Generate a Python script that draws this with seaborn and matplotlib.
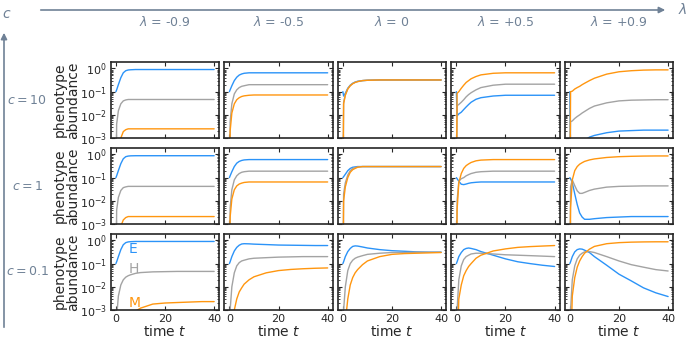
import pandas as pd
import seaborn as sns
import matplotlib.pyplot as plt

# time points
t = [0, 0.3, 1, 2, 3, 4, 5, 6, 8, 10, 15, 20, 25, 30, 35, 40]
lambdas = ['-0.9', '-0.5', '0', '+0.5', '+0.9']
c_values = ['10', '1', '0.1']

# abundance of each phenotype, one list per lambda (order as in `lambdas`)
E_c10 = [
    [0.1, 0.12, 0.2, 0.4, 0.65, 0.8, 0.86, 0.88, 0.9, 0.9, 0.9, 0.9, 0.9, 0.9, 0.9, 0.9],
    [0.1, 0.12, 0.18, 0.3, 0.42, 0.52, 0.58, 0.62, 0.65, 0.65, 0.65, 0.65, 0.65, 0.65, 0.65, 0.65],
    [0.1, 0.065, 0.085, 0.14, 0.19, 0.23, 0.26, 0.28, 0.3, 0.31, 0.32, 0.32, 0.32, 0.32, 0.32, 0.32],
    [0.1, 0.009, 0.011, 0.013, 0.017, 0.022, 0.028, 0.035, 0.047, 0.055, 0.065, 0.07, 0.07, 0.07, 0.07, 0.07],
    [0.1, 1e-5, 1e-4, 2e-4, 3e-4, 4e-4, 6e-4, 8e-4, 0.0011, 0.0013, 0.0017, 0.002, 0.0021, 0.0022, 0.0022, 0.0022],
]
H_c10 = [
    [1e-6, 0.004, 0.015, 0.03, 0.04, 0.044, 0.046, 0.046, 0.046, 0.046, 0.046, 0.046, 0.046, 0.046, 0.046, 0.046],
    [1e-6, 0.005, 0.03, 0.08, 0.12, 0.15, 0.17, 0.18, 0.2, 0.2, 0.2, 0.2, 0.2, 0.2, 0.2, 0.2],
    [1e-6, 0.035, 0.075, 0.135, 0.185, 0.225, 0.255, 0.275, 0.3, 0.31, 0.32, 0.32, 0.32, 0.32, 0.32, 0.32],
    [1e-6, 0.025, 0.028, 0.035, 0.045, 0.06, 0.075, 0.09, 0.12, 0.15, 0.19, 0.21, 0.21, 0.21, 0.21, 0.21],
    [1e-6, 0.005, 0.0055, 0.007, 0.0085, 0.01, 0.012, 0.014, 0.019, 0.024, 0.033, 0.04, 0.043, 0.044, 0.045, 0.045],
]
M_c10 = [
    [1e-6, 1e-5, 3e-4, 0.001, 0.0019, 0.0023, 0.0025, 0.0025, 0.0025, 0.0025, 0.0025, 0.0025, 0.0025, 0.0025, 0.0025, 0.0025],
    [1e-6, 0.002, 0.012, 0.03, 0.045, 0.055, 0.062, 0.066, 0.07, 0.072, 0.072, 0.072, 0.072, 0.072, 0.072, 0.072],
    [1e-6, 0.03, 0.07, 0.13, 0.18, 0.22, 0.25, 0.27, 0.3, 0.31, 0.32, 0.32, 0.32, 0.32, 0.32, 0.32],
    [1e-6, 0.085, 0.1, 0.14, 0.19, 0.25, 0.3, 0.36, 0.45, 0.53, 0.62, 0.65, 0.65, 0.65, 0.65, 0.65],
    [1e-6, 0.1, 0.105, 0.13, 0.15, 0.17, 0.2, 0.23, 0.3, 0.38, 0.57, 0.72, 0.8, 0.85, 0.87, 0.87],
]

E_c1 = [
    [0.1, 0.12, 0.2, 0.4, 0.65, 0.8, 0.85, 0.87, 0.88, 0.88, 0.88, 0.88, 0.88, 0.88, 0.88, 0.88],
    [0.1, 0.12, 0.18, 0.3, 0.42, 0.5, 0.55, 0.58, 0.6, 0.6, 0.6, 0.6, 0.6, 0.6, 0.6, 0.6],
    [0.1, 0.11, 0.14, 0.2, 0.25, 0.28, 0.29, 0.3, 0.3, 0.3, 0.3, 0.3, 0.3, 0.3, 0.3, 0.3],
    [0.1, 0.09, 0.07, 0.052, 0.05, 0.053, 0.057, 0.06, 0.063, 0.065, 0.065, 0.065, 0.065, 0.065, 0.065, 0.065],
    [0.1, 0.09, 0.06, 0.02, 0.007, 0.003, 0.002, 0.0016, 0.0016, 0.0017, 0.0019, 0.002, 0.0021, 0.0021, 0.0021, 0.0021],
]
H_c1 = [
    [1e-6, 0.004, 0.014, 0.028, 0.037, 0.04, 0.042, 0.042, 0.042, 0.042, 0.042, 0.042, 0.042, 0.042, 0.042, 0.042],
    [1e-6, 0.005, 0.03, 0.08, 0.12, 0.15, 0.17, 0.18, 0.19, 0.19, 0.19, 0.19, 0.19, 0.19, 0.19, 0.19],
    [1e-6, 0.02, 0.06, 0.13, 0.2, 0.25, 0.27, 0.29, 0.3, 0.3, 0.3, 0.3, 0.3, 0.3, 0.3, 0.3],
    [1e-6, 0.01, 0.07, 0.09, 0.1, 0.12, 0.135, 0.15, 0.17, 0.18, 0.19, 0.19, 0.19, 0.19, 0.19, 0.19],
    [1e-6, 0.04, 0.08, 0.045, 0.027, 0.021, 0.021, 0.023, 0.028, 0.032, 0.039, 0.042, 0.043, 0.044, 0.044, 0.044],
]
M_c1 = [
    [1e-6, 1e-5, 2e-4, 8e-4, 0.0015, 0.0019, 0.0021, 0.0021, 0.0021, 0.0021, 0.0021, 0.0021, 0.0021, 0.0021, 0.0021, 0.0021],
    [1e-6, 0.002, 0.012, 0.03, 0.044, 0.053, 0.058, 0.062, 0.065, 0.065, 0.065, 0.065, 0.065, 0.065, 0.065, 0.065],
    [1e-6, 0.01, 0.04, 0.1, 0.17, 0.22, 0.25, 0.28, 0.3, 0.3, 0.3, 0.3, 0.3, 0.3, 0.3, 0.3],
    [1e-6, 0.004, 0.06, 0.15, 0.25, 0.33, 0.39, 0.45, 0.53, 0.57, 0.6, 0.6, 0.6, 0.6, 0.6, 0.6],
    [1e-6, 0.005, 0.08, 0.2, 0.3, 0.38, 0.44, 0.5, 0.58, 0.64, 0.74, 0.8, 0.83, 0.85, 0.86, 0.86],
]

E_c01 = [
    [0.1, 0.12, 0.2, 0.4, 0.65, 0.8, 0.86, 0.88, 0.9, 0.9, 0.9, 0.9, 0.9, 0.9, 0.9, 0.9],
    [0.1, 0.12, 0.2, 0.35, 0.5, 0.62, 0.7, 0.72, 0.71, 0.69, 0.66, 0.63, 0.62, 0.61, 0.6, 0.6],
    [0.1, 0.12, 0.2, 0.33, 0.45, 0.55, 0.58, 0.57, 0.52, 0.47, 0.4, 0.36, 0.34, 0.32, 0.31, 0.31],
    [0.1, 0.12, 0.2, 0.3, 0.4, 0.45, 0.47, 0.45, 0.4, 0.33, 0.23, 0.16, 0.12, 0.1, 0.085, 0.075],
    [0.1, 0.12, 0.2, 0.32, 0.4, 0.43, 0.42, 0.38, 0.3, 0.2, 0.085, 0.035, 0.018, 0.009, 0.0055, 0.0038],
]
H_c01 = [
    [1e-6, 5e-4, 0.004, 0.012, 0.02, 0.026, 0.03, 0.033, 0.038, 0.041, 0.044, 0.045, 0.046, 0.046, 0.046, 0.046],
    [1e-6, 0.001, 0.01, 0.04, 0.08, 0.11, 0.13, 0.14, 0.16, 0.17, 0.18, 0.19, 0.195, 0.2, 0.2, 0.2],
    [1e-6, 0.001, 0.01, 0.05, 0.1, 0.14, 0.17, 0.19, 0.22, 0.25, 0.28, 0.3, 0.3, 0.31, 0.31, 0.31],
    [1e-6, 0.001, 0.02, 0.08, 0.15, 0.2, 0.23, 0.26, 0.28, 0.28, 0.26, 0.24, 0.23, 0.22, 0.21, 0.2],
    [1e-6, 0.001, 0.02, 0.08, 0.16, 0.23, 0.28, 0.32, 0.33, 0.3, 0.2, 0.13, 0.09, 0.07, 0.055, 0.048],
]
M_c01 = [
    [1e-6, 1e-6, 1e-5, 5e-5, 1e-4, 2e-4, 3e-4, 5e-4, 9e-4, 0.0012, 0.0018, 0.002, 0.0021, 0.0022, 0.0023, 0.0023],
    [1e-6, 1e-5, 2e-4, 0.001, 0.003, 0.006, 0.009, 0.013, 0.02, 0.027, 0.04, 0.05, 0.056, 0.06, 0.063, 0.065],
    [1e-6, 1e-5, 3e-4, 0.003, 0.012, 0.025, 0.04, 0.055, 0.09, 0.13, 0.2, 0.25, 0.27, 0.28, 0.29, 0.3],
    [1e-6, 1e-5, 0.003, 0.012, 0.03, 0.05, 0.075, 0.1, 0.17, 0.23, 0.35, 0.43, 0.5, 0.54, 0.57, 0.6],
    [1e-6, 1e-5, 0.004, 0.025, 0.07, 0.13, 0.2, 0.28, 0.42, 0.55, 0.72, 0.8, 0.84, 0.86, 0.87, 0.87],
]

rows_data = [(E_c10, H_c10, M_c10), (E_c1, H_c1, M_c1), (E_c01, H_c01, M_c01)]

# long-form table for seaborn
records = []
for ci, (E, H, M) in enumerate(rows_data):
    for li in range(len(lambdas)):
        for name, ser in (('E', E), ('H', H), ('M', M)):
            for tt, v in zip(t, ser[li]):
                records.append({'c': ci, 'lam': li, 'phenotype': name, 't': tt, 'abundance': v})
df = pd.DataFrame(records)

palette = {'E': '#2b93f8', 'H': '#a3a3a3', 'M': '#ff960f'}
slate = '#6f8196'

sns.set_style('ticks')
plt.rcParams['font.family'] = ['DejaVu Sans']

fig, axes = plt.subplots(3, 5, figsize=(6.9, 3.4), dpi=100, sharex=True, sharey=True)
fig.subplots_adjust(left=111/690, right=673/690, top=1-62/340, bottom=1-310/340,
                    wspace=0.05, hspace=0.13)

for ci in range(3):
    for li in range(5):
        ax = axes[ci, li]
        sub = df[(df.c == ci) & (df.lam == li)]
        sns.lineplot(data=sub, x='t', y='abundance', hue='phenotype', palette=palette,
                     estimator=None, sort=False, legend=False, linewidth=1.0, ax=ax)
        ax.set_yscale('log')
        ax.set_ylim(1e-3, 1.9)
        ax.set_xlim(-2, 42)
        ax.set_xticks([0, 20, 40])
        ax.tick_params(which='both', direction='in', top=True, right=True, labelsize=8, pad=3)
        ax.tick_params(which='major', length=3)
        ax.tick_params(which='minor', length=1.5)
        for s in ax.spines.values():
            s.set_linewidth(1.2)
        ax.set_xlabel('')
        ax.set_ylabel('')
        if li == 0:
            ax.set_ylabel('phenotype\nabundance', fontsize=10, labelpad=0, linespacing=0.95)
        if ci == 2:
            ax.set_xlabel('time $t$', fontsize=10, labelpad=0)

# phenotype names in the lower left panel
ax = axes[2, 0]
ax.text(5, 0.42, 'E', color=palette['E'], fontsize=10, va='center')
ax.text(5, 0.06, 'H', color=palette['H'], fontsize=10, va='center')
ax.text(5, 0.0021, 'M', color=palette['M'], fontsize=10, va='center')

# column and row headers with arrows
for li, lam in enumerate(lambdas):
    pos = axes[0, li].get_position()
    fig.text((pos.x0 + pos.x1) / 2, 1 - 22/340, '$\\lambda$ = ' + lam, color=slate,
             fontsize=9, ha='center', va='center')
for ci, cv in enumerate(c_values):
    pos = axes[ci, 0].get_position()
    fig.text(27/690, (pos.y0 + pos.y1) / 2, '$c=' + cv + '$', color=slate,
             fontsize=9, ha='center', va='center')

axes[0, 0].annotate('', xy=(668/690, 1-10/340), xytext=(38/690, 1-10/340),
                    xycoords='figure fraction', textcoords='figure fraction',
                    arrowprops=dict(arrowstyle='-|>', color=slate, lw=1.2, mutation_scale=9),
                    annotation_clip=False)
axes[0, 0].annotate('', xy=(4/690, 1-30/340), xytext=(4/690, 1-330/340),
                    xycoords='figure fraction', textcoords='figure fraction',
                    arrowprops=dict(arrowstyle='-|>', color=slate, lw=1.2, mutation_scale=9),
                    annotation_clip=False)
fig.text(683/690, 1-9/340, '$\\lambda$', color=slate, fontsize=10, ha='center', va='center')
fig.text(7/690, 1-14/340, '$c$', color=slate, fontsize=10, ha='center', va='center')

fig.savefig('out.png', dpi=100)
